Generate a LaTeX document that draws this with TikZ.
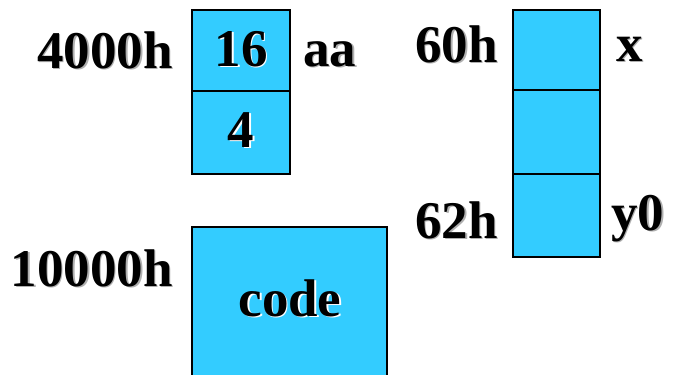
\documentclass[tikz,border=0pt]{standalone}
\usepackage{fontspec}
\setmainfont{Liberation Serif}
\definecolor{cellblue}{RGB}{51,204,255}
\definecolor{shadowgray}{RGB}{175,175,175}
\tikzset{
  txt/.style={inner sep=0pt,font=\fontsize{53}{60}\selectfont\bfseries},
  cell/.style={draw=black,line width=2pt,fill=cellblue,inner sep=0pt,minimum width=#1},
}
% text with a soft drop shadow set behind it, in one node
\newcommand\shadowed[2]{%
  \makebox[0pt][l]{\hspace{1.6pt}\raisebox{-1.6pt}{\textcolor{#1}{#2}}}#2}
\newcommand\memlabel[5]{%
  \node[txt,anchor=#3] (#1) at (#2) {\shadowed{#4}{#5}};}
\begin{document}
\begin{tikzpicture}[x=1pt,y=-1pt]
\useasboundingbox (0,0) rectangle (673,375);
\begin{scope}
\clip (0,0) rectangle (673,375);
% array aa
\node[cell=98pt,minimum height=81pt] (aa0) at (241,50.5) {};
\node[cell=98pt,minimum height=83pt] (aa1) at (241,132.5) {};
% x / y0 words
\node[cell=87pt,minimum height=80pt] (m60) at (556.5,50) {};
\node[cell=87pt,minimum height=84pt] (m61) at (556.5,132) {};
\node[cell=87pt,minimum height=83pt] (m62) at (556.5,215.5) {};
% code segment
\node[cell=195pt,minimum height=166pt] (code) at (289.5,310) {};
\end{scope}
% addresses
\memlabel{a4000}{173,68}{base east}{shadowgray}{4000h}
\memlabel{a10000}{173,286}{base east}{shadowgray}{10000h}
\memlabel{a60}{498,62}{base east}{shadowgray}{60h}
\memlabel{a62}{498,238}{base east}{shadowgray}{62h}
% names
\memlabel{naa}{303,66}{base west}{shadowgray}{aa}
\memlabel{nx}{616,61}{base west}{shadowgray}{x}
\memlabel{ny}{611,230}{base west}{shadowgray}{y0}
% contents
\memlabel{v16}{241,66}{base}{white}{16}
\memlabel{v4}{241,147}{base}{white}{4}
\memlabel{vcode}{290,316}{base}{white}{code}
\end{tikzpicture}
\end{document}
